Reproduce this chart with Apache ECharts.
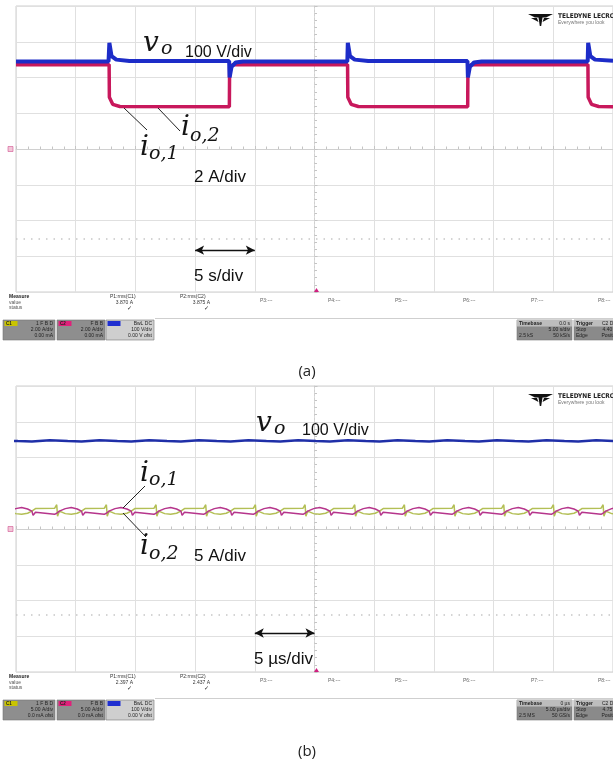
<!DOCTYPE html>
<html><head><meta charset="utf-8">
<script src="https://cdn.jsdelivr.net/npm/echarts@6/dist/echarts.min.js"></script>
<style>html,body{margin:0;padding:0;background:#fff}#c{width:613px;height:770px}</style>
</head><body><div id="c"></div>
<script>
// ---------- Panel (a): time in s (relative to trigger), value in divisions ----------
const aBlueT = [-25, -17.25, -17.18, -17.0, -16.6, -15.5, -7.15, -7.11, -6.95, -6.6, -6.0, 2.75, 2.79, 2.97, 3.37, 4.5, 12.81, 12.85, 13.01, 13.36, 14.0, 22.88, 22.92, 23.1, 23.5, 25];
const aBlueV = [2.45, 2.45, 2.97, 2.60, 2.50, 2.46, 2.46, 2.00, 2.30, 2.42, 2.45, 2.45, 2.97, 2.60, 2.50, 2.46, 2.46, 2.00, 2.30, 2.42, 2.45, 2.45, 2.97, 2.60, 2.50, 2.47];
const aPinkT = [-25, -17.20, -17.18, -16.9, -16.3, -7.13, -7.11, -6.8, 2.77, 2.79, 3.07, 3.67, 12.83, 12.85, 13.16, 22.90, 22.92, 23.2, 23.8, 25];
const aPinkV = [2.36, 2.36, 1.45, 1.25, 1.19, 1.18, 2.30, 2.36, 2.36, 1.45, 1.25, 1.19, 1.18, 2.30, 2.36, 2.36, 1.45, 1.25, 1.19, 1.18];

// ---------- Panel (b): time in µs (relative to trigger), value in divisions ----------
const bBlueT = [-27.83,-27.75,-26.33,-24.83, -23.67,-23.59,-22.17,-20.67, -19.51,-19.43,-18.01,-16.51,
  -15.35,-15.27,-13.85,-12.35, -11.19,-11.11,-9.69,-8.19, -7.03,-6.95,-5.53,-4.03, -2.87,-2.79,-1.37,0.13,
  1.29,1.37,2.79,4.29, 5.45,5.53,6.95,8.45, 9.61,9.69,11.11,12.61, 13.77,13.85,15.27,16.77,
  17.93,18.01,19.43,20.93, 22.09,22.17,23.59,25.09];
const bBlueV = [2.45,2.50,2.48,2.46, 2.45,2.50,2.48,2.46, 2.45,2.50,2.48,2.46, 2.45,2.50,2.48,2.46,
  2.45,2.50,2.48,2.46, 2.45,2.50,2.48,2.46, 2.45,2.50,2.48,2.46, 2.45,2.50,2.48,2.46,
  2.45,2.50,2.48,2.46, 2.45,2.50,2.48,2.46, 2.45,2.50,2.48,2.46, 2.45,2.50,2.48,2.46, 2.45,2.50,2.48,2.46];

const bCurT = [
  -25.93,-25.75,-25.68,-25.53,-25.03,-24.53,-24.03,
  -23.67,-23.57,-23.37,-21.77,-21.59,-21.52,-21.37,-20.87,-20.37,-19.87,
  -19.51,-19.41,-19.21,-17.61,-17.43,-17.36,-17.21,-16.71,-16.21,-15.71,
  -15.35,-15.25,-15.05,-13.45,-13.27,-13.20,-13.05,-12.55,-12.05,-11.55,
  -11.19,-11.09,-10.89,-9.29,-9.11,-9.04,-8.89,-8.39,-7.89,-7.39,
  -7.03,-6.93,-6.73,-5.13,-4.95,-4.88,-4.73,-4.23,-3.73,-3.23,
  -2.87,-2.77,-2.57,-0.97,-0.79,-0.72,-0.57,-0.07,0.43,0.93,
  1.29,1.39,1.59,3.19,3.37,3.44,3.59,4.09,4.59,5.09,
  5.45,5.55,5.75,7.35,7.53,7.60,7.75,8.25,8.75,9.25,
  9.61,9.71,9.91,11.51,11.69,11.76,11.91,12.41,12.91,13.41,
  13.77,13.87,14.07,15.67,15.85,15.92,16.07,16.57,17.07,17.57,
  17.93,18.03,18.23,19.83,20.01,20.08,20.23,20.73,21.23,21.73,
  22.09,22.19,22.39,23.99,24.17,24.24,24.39,24.89,25.39,25.89];
const bMagV = [
  0.41,0.44,0.48,0.50,0.57,0.60,0.56,
  0.50,0.38,0.47,0.41,0.44,0.48,0.50,0.57,0.60,0.56,
  0.50,0.38,0.47,0.41,0.44,0.48,0.50,0.57,0.60,0.56,
  0.50,0.38,0.47,0.41,0.44,0.48,0.50,0.57,0.60,0.56,
  0.50,0.38,0.47,0.41,0.44,0.48,0.50,0.57,0.60,0.56,
  0.50,0.38,0.47,0.41,0.44,0.48,0.50,0.57,0.60,0.56,
  0.50,0.38,0.47,0.41,0.44,0.48,0.50,0.57,0.60,0.56,
  0.50,0.38,0.47,0.41,0.44,0.48,0.50,0.57,0.60,0.56,
  0.50,0.38,0.47,0.41,0.44,0.48,0.50,0.57,0.60,0.56,
  0.50,0.38,0.47,0.41,0.44,0.48,0.50,0.57,0.60,0.56,
  0.50,0.38,0.47,0.41,0.44,0.48,0.50,0.57,0.60,0.56,
  0.50,0.38,0.47,0.41,0.44,0.48,0.50,0.57,0.60,0.56,
  0.50,0.38,0.47,0.41,0.44,0.48,0.50,0.57,0.60,0.56];
const bGrnV = [
  0.58,0.68,0.36,0.50,0.43,0.41,0.44,
  0.50,0.53,0.57,0.58,0.68,0.36,0.50,0.43,0.41,0.44,
  0.50,0.53,0.57,0.58,0.68,0.36,0.50,0.43,0.41,0.44,
  0.50,0.53,0.57,0.58,0.68,0.36,0.50,0.43,0.41,0.44,
  0.50,0.53,0.57,0.58,0.68,0.36,0.50,0.43,0.41,0.44,
  0.50,0.53,0.57,0.58,0.68,0.36,0.50,0.43,0.41,0.44,
  0.50,0.53,0.57,0.58,0.68,0.36,0.50,0.43,0.41,0.44,
  0.50,0.53,0.57,0.58,0.68,0.36,0.50,0.43,0.41,0.44,
  0.50,0.53,0.57,0.58,0.68,0.36,0.50,0.43,0.41,0.44,
  0.50,0.53,0.57,0.58,0.68,0.36,0.50,0.43,0.41,0.44,
  0.50,0.53,0.57,0.58,0.68,0.36,0.50,0.43,0.41,0.44,
  0.50,0.53,0.57,0.58,0.68,0.36,0.50,0.43,0.41,0.44,
  0.50,0.53,0.57,0.58,0.68,0.36,0.50,0.43,0.41,0.44];

// annotation values (in axis units)
const trigLevel = [-2.52, -2.41];
const scaleArrowA = [-10, -5, -2.83];
const scaleArrowB = [-5, 0, -2.91];

// measurement strip text
const measA = {p1: '3.870 A', p2: '3.875 A', c1: ['1 F B D', '2.00 A/div', '0.00 mA'], c2: ['F B B', '2.00 A/div', '0.00 mA'], c3: ['BwL DC', '100 V/div', '0.00 V ofst'], tb: ['0.0 s', '5.00 s/div', '2.5 kS', '50 kS/s'], tr: ['C2 DC', '4.40 A', 'Positive']};
const measB = {p1: '2.397 A', p2: '2.437 A', c1: ['1 F B D', '5.00 A/div', '0.0 mA ofst'], c2: ['F B B', '5.00 A/div', '0.0 mA ofst'], c3: ['BwL DC', '100 V/div', '0.00 V ofst'], tb: ['0 µs', '5.00 µs/div', '2.5 MS', '50 GS/s'], tr: ['C2 DC', '4.75 A', 'Positive']};

const zip = (t, v) => t.map((x, i) => [x, v[i]]);

const chart = echarts.init(document.getElementById('c'), null, {renderer: 'canvas'});

function axes(i) {
  const tick = {show: true, inside: true, length: 3, lineStyle: {color: '#c4c4c4'}};
  const minor = {show: true, splitNumber: 5, length: 2.5, lineStyle: {color: '#c4c4c4'}};
  return {
    x: {gridIndex: i, type: 'value', min: -25, max: 25, interval: 5,
      axisLabel: {show: false}, axisLine: {onZero: true, lineStyle: {color: '#d0d0d0'}},
      axisTick: tick, minorTick: minor, splitLine: {lineStyle: {color: '#e0e0e0'}}},
    y: {gridIndex: i, type: 'value', min: -4, max: 4, interval: 1,
      axisLabel: {show: false}, axisLine: {onZero: true, lineStyle: {color: '#d0d0d0', type: [2, 2]}},
      axisTick: tick, minorTick: minor, splitLine: {lineStyle: {color: '#e0e0e0'}}}
  };
}
const A0 = axes(0), A1 = axes(1);

const SANS = 'Liberation Sans, Arial, sans-serif';
const SERIF = 'DejaVu Serif, Liberation Serif, serif';
const G = [];
function txt(x, y, s, font, opt) {
  opt = opt || {};
  G.push({type: 'text', x: x, y: y, silent: true, z: 100,
    style: {text: s, font: font, fill: opt.fill || '#111',
      align: opt.align || 'left', verticalAlign: 'middle',
      textAlign: opt.align || 'left', textVerticalAlign: 'middle'}});
}
function line(x1, y1, x2, y2, color, w) {
  G.push({type: 'line', silent: true, z: 100, shape: {x1: x1, y1: y1, x2: x2, y2: y2}, style: {stroke: color, lineWidth: w}});
}
function rect(x, y, w, h, fill, stroke) {
  G.push({type: 'rect', silent: true, z: 90, shape: {x: x, y: y, width: w, height: h}, style: {fill: fill, stroke: stroke || null, lineWidth: 0.6}});
}
function mathSym(x, y, main, sub, subDx, subDy) {
  txt(x, y, main, 'italic 28px ' + SERIF, {fill: '#151515'});
  txt(x + subDx, y + subDy, sub, 'italic 19px ' + SERIF, {fill: '#151515'});
}
function logo(dy) {
  G.push({type: 'polygon', silent: true, z: 100, shape: {points: [[528, 14 + dy], [553, 14 + dy], [546, 17.5 + dy], [542.5, 17.5 + dy], [541.2, 26 + dy], [539.8, 26 + dy], [538.5, 17.5 + dy], [535, 17.5 + dy]]}, style: {fill: '#111'}});
  G.push({type: 'polygon', silent: true, z: 100, shape: {points: [[531, 18 + dy], [537, 18 + dy], [538.5, 22 + dy]]}, style: {fill: '#111'}});
  G.push({type: 'polygon', silent: true, z: 100, shape: {points: [[550, 18 + dy], [544, 18 + dy], [542.5, 22 + dy]]}, style: {fill: '#111'}});
  txt(558, 16.5 + dy, 'TELEDYNE LECROY', 'bold 6.5px DejaVu Sans Condensed, ' + SANS, {fill: '#222'});
  txt(558, 22.5 + dy, 'Everywhere you look', '5px ' + SANS, {fill: '#777'});
}
function strip(o, m) {
  const f = '5px ' + SANS, fb = 'bold 5px ' + SANS, c = '#333';
  txt(9, 297 + o, 'Measure', fb, {fill: '#222'});
  txt(9, 302.5 + o, 'value', f, {fill: '#555'});
  txt(9, 308 + o, 'status', f, {fill: '#555'});
  txt(110, 297 + o, 'P1:rms(C1)', f, {fill: c});
  txt(133, 302.5 + o, m.p1, f, {fill: c, align: 'right'});
  txt(127, 308 + o, '✓', 'bold 6px DejaVu Sans', {fill: '#222'});
  txt(180, 297 + o, 'P2:rms(C2)', f, {fill: c});
  txt(210, 302.5 + o, m.p2, f, {fill: c, align: 'right'});
  txt(204, 308 + o, '✓', 'bold 6px DejaVu Sans', {fill: '#222'});
  const px = [260, 328, 395, 463, 531, 598];
  px.forEach((x, k) => txt(x, 301 + o, 'P' + (k + 3) + ':---', f, {fill: '#666'}));
  line(155, 318.5 + o, 613, 318.5 + o, '#cfcfcf', 1);
  const boxes = [[3, 52, '#8e8e8e', '#c9c400', 'C1', m.c1], [57, 48, '#8e8e8e', '#e0207a', 'C2', m.c2], [106, 48, '#cfcfcf', '#1f2fd0', '', m.c3]];
  boxes.forEach(b => {
    rect(b[0], 320 + o, b[1], 20, b[2], '#777');
    rect(b[0] + 1.5, 321 + o, 13, 5, b[3]);
    if (b[4]) txt(b[0] + 3, 323.6 + o, b[4], 'bold 4.5px ' + SANS, {fill: '#222'});
    txt(b[0] + b[1] - 2, 323.6 + o, b[5][0], f, {fill: '#222', align: 'right'});
    txt(b[0] + b[1] - 2, 329.8 + o, b[5][1], f, {fill: '#222', align: 'right'});
    txt(b[0] + b[1] - 2, 335.8 + o, b[5][2], f, {fill: '#222', align: 'right'});
  });
  rect(517, 320 + o, 55, 20, '#8a8a8a', '#777');
  rect(517, 320 + o, 55, 6.5, '#bdbdbd');
  txt(519, 323.4 + o, 'Timebase', fb, {fill: '#222'});
  txt(570, 323.4 + o, m.tb[0], f, {fill: '#222', align: 'right'});
  txt(570, 329.8 + o, m.tb[1], f, {fill: '#222', align: 'right'});
  txt(519, 335.8 + o, m.tb[2], f, {fill: '#222'});
  txt(570, 335.8 + o, m.tb[3], f, {fill: '#222', align: 'right'});
  rect(574, 320 + o, 45, 20, '#8a8a8a', '#777');
  rect(574, 320 + o, 45, 6.5, '#bdbdbd');
  txt(576, 323.4 + o, 'Trigger', fb, {fill: '#222'});
  txt(617, 323.4 + o, m.tr[0], f, {fill: '#222', align: 'right'});
  txt(576, 329.8 + o, 'Stop', f, {fill: '#222'});
  txt(617, 329.8 + o, m.tr[1], f, {fill: '#222', align: 'right'});
  txt(576, 335.8 + o, 'Edge', f, {fill: '#222'});
  txt(619, 335.8 + o, m.tr[2], f, {fill: '#222', align: 'right'});
  rect(8, 146.5 + o, 5, 5, '#f3c6d8', '#d05090');
  G.push({type: 'polygon', silent: true, z: 100, shape: {points: [[314, 292 + o], [319, 292 + o], [316.5, 288 + o]]}, style: {fill: '#d02080'}});
}

// panel (a) annotations
mathSym(143, 43.3, 'v', 'o', 18, 6.1);
txt(185, 52.4, '100 V/div', '16px ' + SANS);
mathSym(181, 127.3, 'i', 'o,2', 9, 9.1);
mathSym(140, 147.3, 'i', 'o,1', 9, 7.1);
line(124, 108, 147, 130, '#222', 1);
line(158, 108, 180, 131, '#222', 1);
txt(194, 177, '2 A/div', '17px ' + SANS);
txt(194, 276, '5 s/div', '17px ' + SANS);
logo(0);
strip(0, measA);
txt(307, 372, '(a)', '15px Open Sans, ' + SANS, {fill: '#222', align: 'center'});

// panel (b) annotations
mathSym(256, 423.3, 'v', 'o', 18, 6.1);
txt(302, 430.4, '100 V/div', '16px ' + SANS);
mathSym(140, 473.3, 'i', 'o,1', 9, 7.1);
mathSym(140, 546.3, 'i', 'o,2', 9, 8.1);
line(123, 508, 145, 486, '#222', 1);
line(123, 513, 146, 537, '#222', 1);
txt(194, 556, '5 A/div', '17px ' + SANS);
txt(254, 659, '5 µs/div', '17px ' + SANS);
logo(380);
strip(380, measB);
txt(307, 752, '(b)', '15px Open Sans, ' + SANS, {fill: '#222', align: 'center'});

function arrowML(a) {
  return {silent: true, symbol: ['arrow', 'arrow'], symbolSize: [7, 9], label: {show: false},
    lineStyle: {color: '#111', width: 1.3, type: 'solid'},
    data: [[{coord: [a[0], a[2]]}, {coord: [a[1], a[2]]}]]};
}
function dotML(v) {
  return {silent: true, symbol: 'none', label: {show: false},
    lineStyle: {color: '#c6c6c6', width: 1.5, type: [1.5, 6]}, data: [{yAxis: v}]};
}

chart.setOption({
  animation: false,
  backgroundColor: '#fff',
  grid: [
    {left: 16, top: 6, width: 601, height: 286, show: true, borderColor: '#cfcfcf', borderWidth: 1, backgroundColor: '#fff'},
    {left: 16, top: 386, width: 601, height: 286, show: true, borderColor: '#cfcfcf', borderWidth: 1, backgroundColor: '#fff'}
  ],
  xAxis: [A0.x, A1.x],
  yAxis: [A0.y, A1.y],
  series: [
    {type: 'line', xAxisIndex: 0, yAxisIndex: 0, data: zip(aPinkT, aPinkV), showSymbol: false, symbol: 'none',
      lineStyle: {color: '#c8185c', width: 3.5}, z: 3, markLine: arrowML(scaleArrowA)},
    {type: 'line', xAxisIndex: 0, yAxisIndex: 0, data: zip(aBlueT, aBlueV), showSymbol: false, symbol: 'none',
      lineStyle: {color: '#1d2cc8', width: 4}, z: 4, markLine: dotML(trigLevel[0])},
    {type: 'line', xAxisIndex: 1, yAxisIndex: 1, data: zip(bCurT, bGrnV), showSymbol: false, symbol: 'none',
      lineStyle: {color: '#b3bf55', width: 1.5}, z: 3, markLine: dotML(trigLevel[1])},
    {type: 'line', xAxisIndex: 1, yAxisIndex: 1, data: zip(bCurT, bMagV), showSymbol: false, symbol: 'none',
      lineStyle: {color: '#b6358c', width: 1.5}, z: 4, markLine: arrowML(scaleArrowB)},
    {type: 'line', xAxisIndex: 1, yAxisIndex: 1, data: zip(bBlueT, bBlueV), showSymbol: false, symbol: 'none',
      lineStyle: {color: '#1f2fa8', width: 2.5}, z: 5}
  ],
  graphic: G
});
</script></body></html>
